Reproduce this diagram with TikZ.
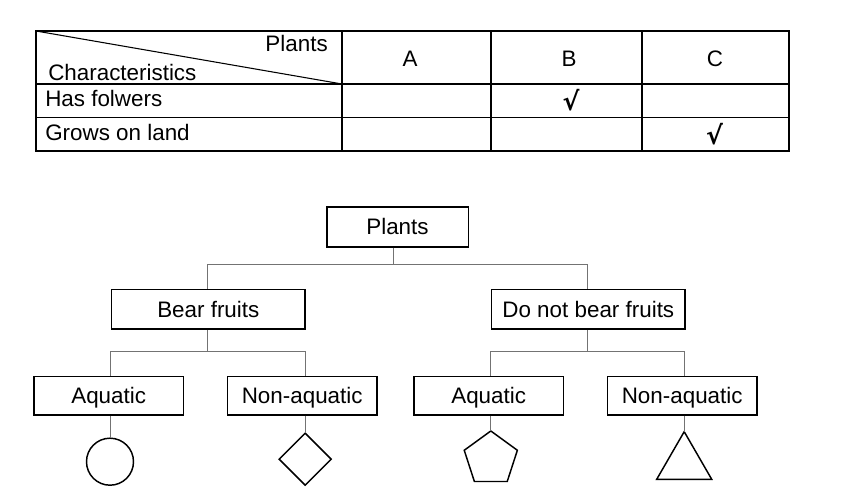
\documentclass[tikz,border=0pt]{standalone}
\usepackage{fontspec}
\setmainfont{Liberation Sans}
\newfontfamily\symfont{DejaVu Sans}
\usetikzlibrary{shapes.geometric}
\begin{document}
\begin{tikzpicture}[x=0.75pt,y=-0.75pt,
  font=\fontsize{16.8}{20}\selectfont,
  box/.style={draw, line width=1.2pt, inner sep=0pt, text height=12pt, text depth=0pt},
  conn/.style={draw=black!55, line width=0.7pt},
  shp/.style={draw, line width=1.1pt, inner sep=0pt, outer sep=0pt},
  txt/.style={inner sep=0pt},
  tline/.style={line width=1pt},
  chk/.style={inner sep=0pt, font=\symfont\bfseries\fontsize{19}{22}\selectfont}]
\useasboundingbox (0,0) rectangle (841,503);
% ---------- table ----------
\draw[tline] (36,31) rectangle (789,151);
\draw[tline] (342,31) -- (342,151);
\draw[tline] (491,31) -- (491,151);
\draw[tline] (642,31) -- (642,151);
\draw[tline] (36,84) -- (789,84);
\draw[tline] (36,117.5) -- (789,117.5);
\draw[line width=0.8pt] (36,31) -- (342,84);
\node[txt, anchor=base east] (tplants) at (328,52) {Plants};
\node[txt, anchor=base west] (tchar) at (48,80) {Characteristics};
\node[txt, anchor=base] (ta) at (410,66) {A};
\node[txt, anchor=base] (tb) at (569,66) {B};
\node[txt, anchor=base] (tc) at (715,66) {C};
\node[txt, anchor=base west] (tflow) at (45,106.7) {Has folwers};
\node[txt, anchor=base west] (tland) at (45,140) {Grows on land};
\node[chk] (chkb) at (571,100) {√};
\node[chk] (chkc) at (714.5,134) {√};
% ---------- tree ----------
\node[box, minimum width=106.2pt, minimum height=30pt] (plants) at (397.5,226.7) {Plants};
\node[box, minimum width=145pt, minimum height=29.8pt] (bear) at (208.3,309.2) {Bear fruits};
\node[box, minimum width=145pt, minimum height=29.8pt] (dnb) at (588.3,309.2) {Do not bear fruits};
\node[box, minimum width=111.9pt, minimum height=28.7pt] (aql) at (108.7,395.8) {Aquatic};
\node[box, minimum width=111.9pt, minimum height=28.7pt] (nal) at (302.2,395.8) {Non-aquatic};
\node[box, minimum width=111.9pt, minimum height=28.7pt] (aqr) at (488.7,395.8) {Aquatic};
\node[box, minimum width=111.9pt, minimum height=28.7pt] (nar) at (682.2,395.8) {Non-aquatic};
% shapes
\node[shp, circle, minimum size=35.25pt] (circ) at (110,461.7) {};
\node[shp, diamond, minimum width=39pt, minimum height=39pt, aspect=1] (diam) at (305.2,459.2) {};
\node[shp, regular polygon, regular polygon sides=5, minimum size=41.9pt] (pent) at (490.8,458.9) {};
\node[shp, regular polygon, regular polygon sides=3, minimum size=47.6pt] (tri) at (684.2,463.4) {};
% connectors
\draw[conn] ([xshift=-3.2pt]plants.south) -- ++(0,16.6) coordinate (j1);
\draw[conn] (j1) -| ([xshift=-0.7pt]bear.north);
\draw[conn] (j1) -| ([xshift=-0.7pt]dnb.north);
\draw[conn] ([xshift=-0.7pt]bear.south) -- ++(0,22) coordinate (j2);
\draw[conn] (j2) -| (circ.north |- aql.north);
\draw[conn] (j2) -| (diam.north |- nal.north);
\draw[conn] ([xshift=-0.7pt]dnb.south) -- ++(0,22) coordinate (j3);
\draw[conn] (j3) -| (pent.corner 1 |- aqr.north);
\draw[conn] (j3) -| (tri.corner 1 |- nar.north);
\draw[conn] (circ.north |- aql.south) -- (circ.north);
\draw[conn] (diam.north |- nal.south) -- (diam.north);
\draw[conn] (pent.corner 1 |- aqr.south) -- (pent.corner 1);
\draw[conn] (tri.corner 1 |- nar.south) -- (tri.corner 1);
\end{tikzpicture}
\end{document}
